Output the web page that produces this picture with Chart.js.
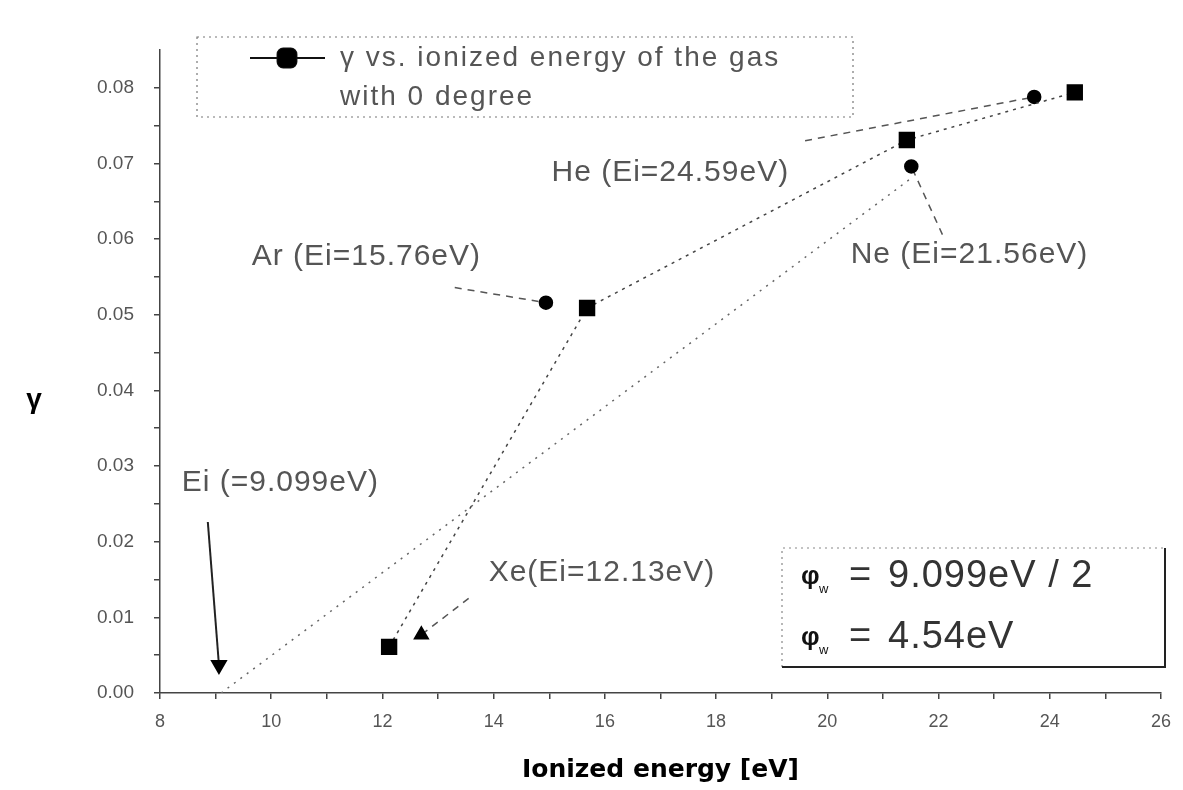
<!DOCTYPE html>
<html>
<head>
<meta charset="utf-8">
<script src="https://cdn.jsdelivr.net/npm/chart.js@4.4.1/dist/chart.umd.min.js"></script>
<style>
  html, body { margin: 0; padding: 0; background: #fff; }
  #wrap { width: 1183px; height: 790px; position: relative; }
</style>
</head>
<body>
<div id="wrap"><canvas id="gammaChart"></canvas></div>
<script>
// measured gamma of each gas (squares, joined by the dotted line)
const gases = ['Xe', 'Ar', 'Ne', 'He'];
const ionEnergy = [12.12, 15.68, 21.43, 24.45];
const gammaMeasured = [0.0061, 0.0509, 0.0731, 0.0794];

// points the gas labels point at
const markEnergy = [12.70, 14.94, 21.51, 23.72];
const markGamma = [0.0077, 0.0516, 0.0696, 0.0788];
const markStyle = ['triangle', 'circle', 'circle', 'circle'];

// gas labels and where their arrows start
const gasLabels = ['Xe(Ei=12.13eV)', 'Ar (Ei=15.76eV)', 'Ne (Ei=21.56eV)', 'He (Ei=24.59eV)'];
const labelEnergy = [13.91, 9.65, 20.42, 15.04];
const labelGamma = [0.0159, 0.0577, 0.0579, 0.0688];
const arrowEnergy = [13.55, 13.30, 22.07, 19.60];
const arrowGamma = [0.0125, 0.0536, 0.0606, 0.0730];

// extrapolated fit line and the threshold arrow
const fitEnergy = [9.1, 21.5];
const fitGamma = [0, 0.068];
const threshEnergy = [8.86, 9.06];
const threshGamma = [0.0226, 0.0037];
const threshLabel = 'Ei (=9.099eV)';
const threshLabelAt = [8.39, 0.0278];

const legendLines = ['\u03b3 vs. ionized energy of the gas', 'with 0 degree'];
const boxValues = ['9.099eV / 2', '4.54eV'];

const xTicks = [8, 10, 12, 14, 16, 18, 20, 22, 24, 26];
const xMinor = [9, 11, 13, 15, 17, 19, 21, 23, 25];
const yTicks = [0, 0.01, 0.02, 0.03, 0.04, 0.05, 0.06, 0.07, 0.08];
const yMinor = [0.005, 0.015, 0.025, 0.035, 0.045, 0.055, 0.065, 0.075];

const FONT = "'Liberation Sans', Arial, sans-serif";

function pts(xs, ys) {
  return xs.map((x, i) => ({ x: x, y: ys[i] }));
}

const datasets = [
  {
    label: legendLines.join(' '),
    data: pts(ionEnergy, gammaMeasured),
    showLine: true,
    borderColor: '#444',
    borderWidth: 1.5,
    borderDash: [3, 5],
    pointStyle: 'rect',
    pointRadius: 10.5,
    pointBackgroundColor: '#000',
    pointBorderColor: '#000'
  },
  {
    label: 'fit',
    data: pts(fitEnergy, fitGamma),
    showLine: true,
    borderColor: '#666',
    borderWidth: 1.5,
    borderDash: [2, 6],
    pointRadius: 0
  },
  {
    label: 'threshold',
    data: pts(threshEnergy, threshGamma),
    showLine: true,
    borderColor: '#222',
    borderWidth: 2,
    pointStyle: 'triangle',
    rotation: 180,
    pointRadius: [0, 8],
    pointBackgroundColor: '#000',
    pointBorderColor: '#000'
  }
];

gases.forEach((g, i) => {
  datasets.push({
    label: g + ' arrow',
    data: [{ x: arrowEnergy[i], y: arrowGamma[i] }, { x: markEnergy[i], y: markGamma[i] }],
    showLine: true,
    borderColor: '#555',
    borderWidth: 1.5,
    borderDash: [7, 6],
    pointStyle: markStyle[i],
    pointRadius: [0, markStyle[i] === 'triangle' ? 8 : 6.5],
    pointBackgroundColor: '#000',
    pointBorderColor: '#000'
  });
});

function near(list, v) {
  return list.some(t => Math.abs(t - v) < 1e-9);
}

const annotations = {
  id: 'annotations',
  afterDatasetsDraw(chart) {
    const ctx = chart.ctx;
    const xs = chart.scales.x, ys = chart.scales.y;
    ctx.save();

    // gas labels
    ctx.fillStyle = '#555';
    ctx.font = '30px ' + FONT;
    ctx.letterSpacing = '1px';
    ctx.textBaseline = 'middle';
    ctx.textAlign = 'left';
    gasLabels.forEach((t, i) => {
      ctx.fillText(t, xs.getPixelForValue(labelEnergy[i]), ys.getPixelForValue(labelGamma[i]));
    });
    ctx.fillText(threshLabel, xs.getPixelForValue(threshLabelAt[0]), ys.getPixelForValue(threshLabelAt[1]));

    // legend box
    ctx.strokeStyle = '#777';
    ctx.lineWidth = 1.2;
    ctx.setLineDash([2, 4]);
    ctx.strokeRect(197, 37, 656, 80);
    ctx.setLineDash([]);
    ctx.strokeStyle = '#111';
    ctx.lineWidth = 2;
    ctx.beginPath();
    ctx.moveTo(250, 58);
    ctx.lineTo(325, 58);
    ctx.stroke();
    Chart.helpers.drawPoint(ctx, { pointStyle: 'rectRounded', radius: 11, rotation: 0, borderWidth: 1 }, 287, 58);
    ctx.fillStyle = '#000';
    ctx.fill();
    ctx.fillStyle = '#555';
    ctx.font = '28px ' + FONT;
    ctx.letterSpacing = '2px';
    ctx.fillText(legendLines[0], 340, 58);
    ctx.fillText(legendLines[1], 340, 97);

    // work function box
    ctx.strokeStyle = '#888';
    ctx.lineWidth = 1.2;
    ctx.setLineDash([2, 4]);
    ctx.beginPath();
    ctx.moveTo(782, 667);
    ctx.lineTo(782, 548);
    ctx.lineTo(1165, 548);
    ctx.stroke();
    ctx.setLineDash([]);
    ctx.strokeStyle = '#222';
    ctx.lineWidth = 2;
    ctx.beginPath();
    ctx.moveTo(1165, 548);
    ctx.lineTo(1165, 667);
    ctx.lineTo(782, 667);
    ctx.stroke();

    ctx.letterSpacing = '0px';
    [577, 638].forEach((y, i) => {
      ctx.fillStyle = '#111';
      ctx.font = 'bold 26px ' + FONT;
      ctx.fillText('\u03c6', 801, y);
      ctx.font = '13px ' + FONT;
      ctx.fillText('w', 819, y + 12);
      ctx.fillStyle = '#333';
      ctx.font = '38px ' + FONT;
      ctx.fillText('=', 849, y);
      ctx.letterSpacing = '1px';
      ctx.fillText(boxValues[i], 888, y);
      ctx.letterSpacing = '0px';
    });

    // y axis title
    ctx.fillStyle = '#000';
    ctx.font = 'bold 28px ' + FONT;
    ctx.textAlign = 'center';
    ctx.fillText('\u03b3', 34, 400);
    ctx.restore();
  }
};

new Chart(document.getElementById('gammaChart'), {
  type: 'scatter',
  data: { datasets: datasets },
  options: {
    responsive: true,
    maintainAspectRatio: false,
    animation: false,
    layout: { padding: { top: 50, right: 19, left: 0, bottom: 0 } },
    plugins: {
      legend: { display: false },
      tooltip: { enabled: false }
    },
    scales: {
      x: {
        type: 'linear',
        min: 8,
        max: 26,
        afterBuildTicks: s => {
          s.ticks = xTicks.concat(xMinor).sort((a, b) => a - b).map(v => ({ value: v }));
        },
        afterFit: s => { s.height = 97; },
        ticks: {
          autoSkip: false,
          maxRotation: 0,
          padding: 12,
          color: '#555',
          font: { family: FONT, size: 18 },
          callback: v => near(xTicks, v) ? String(v) : ''
        },
        grid: { display: true, drawOnChartArea: false, drawTicks: true, tickLength: 6, color: '#444', lineWidth: 1.5 },
        border: { display: true, color: '#444', width: 1.5, dash: [2, 2] },
        title: {
          display: true,
          text: 'Ionized energy [eV]',
          color: '#000',
          font: { family: "'DejaVu Sans', sans-serif", size: 25, weight: 'bold' },
          padding: { top: 4, bottom: 5 }
        }
      },
      y: {
        type: 'linear',
        min: 0,
        max: 0.085,
        afterBuildTicks: s => {
          s.ticks = yTicks.concat(yMinor).sort((a, b) => a - b).map(v => ({ value: v }));
        },
        afterFit: s => { s.width = 160; },
        ticks: {
          autoSkip: false,
          padding: 20,
          color: '#555',
          font: { family: FONT, size: 19 },
          callback: v => near(yTicks, v) ? v.toFixed(2) : ''
        },
        grid: { display: true, drawOnChartArea: false, drawTicks: true, tickLength: 6, color: '#444', lineWidth: 1.5 },
        border: { display: true, color: '#444', width: 1.5, dash: [2, 2] }
      }
    }
  },
  plugins: [annotations]
});
</script>
</body>
</html>
